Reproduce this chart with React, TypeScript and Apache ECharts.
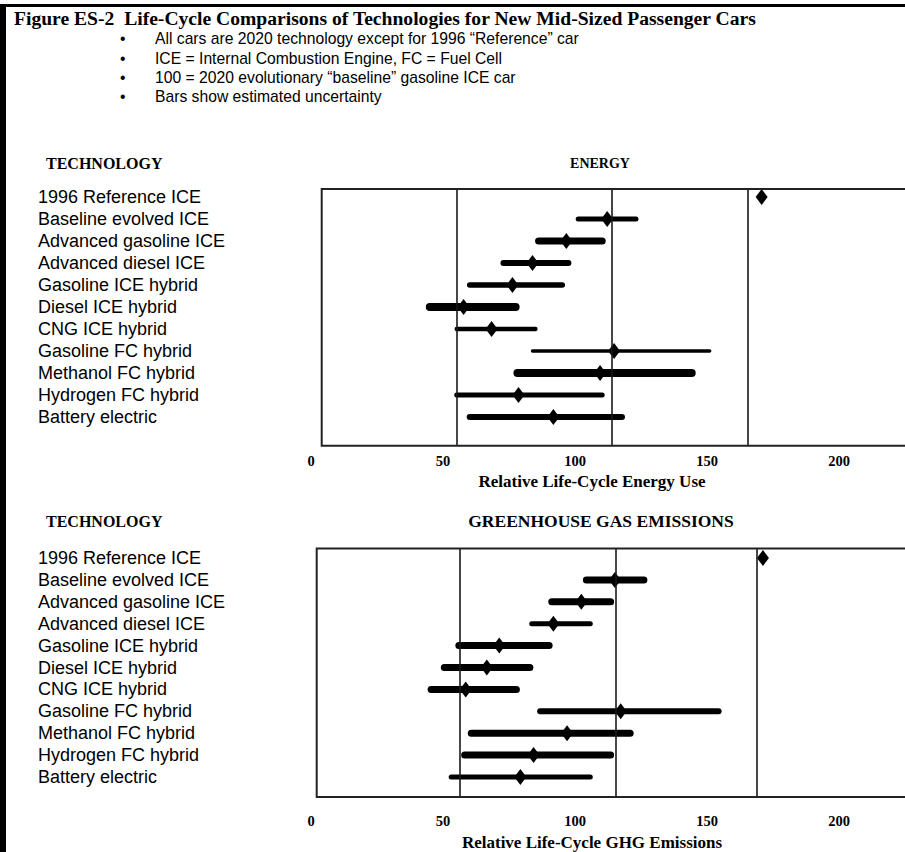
import React, { useEffect, useRef } from "react";
import * as echarts from "echarts";

const technologies = [
  "1996 Reference ICE",
  "Baseline evolved ICE",
  "Advanced gasoline ICE",
  "Advanced diesel ICE",
  "Gasoline ICE hybrid",
  "Diesel ICE hybrid",
  "CNG ICE hybrid",
  "Gasoline FC hybrid",
  "Methanol FC hybrid",
  "Hydrogen FC hybrid",
  "Battery electric",
];

const energyMid = [170.7, 112.2, 96.7, 83.9, 76.3, 57.8, 68.4, 114.8, 109.5, 78.6, 91.8];
const energyLow = [null, 101.2, 86.2, 72.9, 60.1, 45.0, 55.2, 83.9, 78.2, 55.2, 60.1];
const energyHigh = [null, 123.1, 110.3, 97.5, 95.2, 77.5, 85.0, 151.0, 144.2, 110.3, 117.8];
const energyRefLines = [55.2, 114.0, 165.6];

const ghgMid = [171.2, 115.1, 102.4, 91.8, 71.3, 66.6, 58.6, 117.3, 97.0, 84.3, 79.3];
const ghgLow = [null, 104.3, 91.2, 83.6, 56.0, 50.5, 45.5, 86.8, 60.7, 58.2, 53.1];
const ghgHigh = [null, 126.1, 113.5, 105.8, 90.2, 82.9, 77.8, 154.4, 120.9, 113.5, 105.8];
const ghgRefLines = [56.5, 115.6, 168.8];

const xTicks = [0, 50, 100, 150, 200];

const bullets = [
  "All cars are 2020 technology except for 1996 \u201cReference\u201d car",
  "ICE = Internal Combustion Engine, FC = Fuel Cell",
  "100 = 2020 evolutionary \u201cbaseline\u201d gasoline ICE car",
  "Bars show estimated uncertainty",
];

// styles (not data)
const energyBarWidths = [0, 5, 7, 6, 5.5, 8, 4.5, 3.5, 8, 5, 6];
const ghgBarWidths = [0, 7, 7, 5, 7, 7, 7, 6, 7, 7, 5];

const SERIF = "'Liberation Serif', 'Times New Roman', serif";
const SANS = "'Liberation Sans', Arial, sans-serif";

const X0 = 311; // pixel of value 0
const XW = 596.25; // pixel width of 0..225
const XMAX = 225;

function App() {
  const ref = useRef<HTMLDivElement>(null);

  useEffect(() => {
    if (!ref.current) return;
    const chart = echarts.init(ref.current, undefined, { renderer: "svg" });

    const rowIdx = technologies.map((_, i) => i);

    const makeBars = (low: (number | null)[], high: (number | null)[], widths: number[], gi: number) => ({
      type: "custom",
      xAxisIndex: gi,
      yAxisIndex: gi,
      silent: true,
      z: 3,
      data: low
        .map((l, i) => (l == null ? null : [l, high[i], i]))
        .filter((d) => d != null),
      encode: { x: [0, 1], y: 2 },
      renderItem: (params: any, api: any) => {
        const lo = api.value(0);
        const hi = api.value(1);
        const row = api.value(2);
        const p1 = api.coord([lo, row]);
        const p2 = api.coord([hi, row]);
        return {
          type: "line",
          shape: { x1: p1[0], y1: p1[1], x2: p2[0], y2: p2[1] },
          style: { stroke: "#000", lineWidth: widths[row], lineCap: "round" },
        };
      },
    });

    const makeDots = (mid: number[], refs: number[], gi: number) => ({
      type: "scatter",
      xAxisIndex: gi,
      yAxisIndex: gi,
      silent: true,
      z: 4,
      symbol: "diamond",
      symbolSize: [12, 16],
      itemStyle: { color: "#000", opacity: 1 },
      data: mid.map((v, i) => [v, i]),
      markLine: {
        silent: true,
        symbol: ["none", "none"],
        label: { show: false },
        lineStyle: { color: "#1a1a1a", width: 1.6, type: "solid" },
        data: refs.map((v) => ({ xAxis: v })),
      },
    });

    const xAxisBase = (gi: number, margin: number) => ({
      gridIndex: gi,
      type: "value",
      min: 0,
      max: XMAX,
      axisLine: { show: false },
      axisTick: { show: false },
      splitLine: { show: false },
      axisLabel: {
        customValues: xTicks,
        formatter: (v: number) => (xTicks.includes(v) ? String(v) : ""),
        fontFamily: SERIF,
        fontWeight: "bold",
        fontSize: 14.5,
        color: "#000",
        margin,
      },
    });

    const yAxisBase = (gi: number, min: number, max: number) => ({
      gridIndex: gi,
      type: "value",
      inverse: true,
      min,
      max,
      axisLine: { show: false },
      axisTick: { show: false },
      splitLine: { show: false },
      axisLabel: {
        customValues: rowIdx,
        formatter: (v: number) => technologies[v] ?? "",
        align: "left",
        margin: X0 - 38,
        fontFamily: SANS,
        fontSize: 18,
        color: "#000",
      },
    });

    const text = (x: number, y: number, t: string, font: any, align = "left") => ({
      type: "text",
      x,
      y,
      silent: true,
      style: {
        text: t,
        fill: "#000",
        align,
        verticalAlign: "middle",
        ...font,
      },
    });

    const bulletY = [38, 58, 77, 96];

    const graphic: any[] = [
      // page frame
      { type: "rect", shape: { x: 0, y: 6, width: 6, height: 846 }, style: { fill: "#000" }, silent: true },
      { type: "rect", shape: { x: 0, y: 4, width: 905, height: 3 }, style: { fill: "#000" }, silent: true },
      text(14, 18, "Figure ES-2  Life-Cycle Comparisons of Technologies for New Mid-Sized Passenger Cars", {
        fontFamily: SERIF,
        fontWeight: "bold",
        fontSize: 19.6,
      }),
      ...bullets.flatMap((b, i) => [
        text(120, bulletY[i], "\u2022", { fontFamily: SANS, fontSize: 15.7 }),
        text(155, bulletY[i], b, { fontFamily: SANS, fontSize: 15.7 }),
      ]),
      text(46, 163, "TECHNOLOGY", { fontFamily: SERIF, fontWeight: "bold", fontSize: 16 }),
      text(600, 163, "ENERGY", { fontFamily: SERIF, fontWeight: "bold", fontSize: 14 }, "center"),
      text(46, 521, "TECHNOLOGY", { fontFamily: SERIF, fontWeight: "bold", fontSize: 16 }),
      text(601, 521, "GREENHOUSE GAS EMISSIONS", { fontFamily: SERIF, fontWeight: "bold", fontSize: 17.5 }, "center"),
      text(592, 481, "Relative Life-Cycle Energy Use", { fontFamily: SERIF, fontWeight: "bold", fontSize: 17 }, "center"),
      text(592, 842, "Relative Life-Cycle GHG Emissions", { fontFamily: SERIF, fontWeight: "bold", fontSize: 17 }, "center"),
      // plot boxes
      {
        type: "rect",
        silent: true,
        z: 10,
        shape: { x: 321.7, y: 189, width: 600, height: 256.7 },
        style: { fill: "none", stroke: "#222", lineWidth: 2 },
      },
      {
        type: "rect",
        silent: true,
        z: 10,
        shape: { x: 316.7, y: 548.4, width: 600, height: 248.6 },
        style: { fill: "none", stroke: "#222", lineWidth: 2 },
      },
    ];

    chart.setOption({
      animation: false,
      backgroundColor: "#fff",
      grid: [
        { left: X0, width: XW, top: 189, height: 256.7 },
        { left: X0, width: XW, top: 548.4, height: 248.6 },
      ],
      xAxis: [xAxisBase(0, 8), xAxisBase(1, 16)],
      yAxis: [yAxisBase(0, -8 / 22, 10 + 28.7 / 22), yAxisBase(1, -9.6 / 21.9, 10 + 20 / 21.9)],
      series: [
        makeBars(energyLow, energyHigh, energyBarWidths, 0),
        makeDots(energyMid, energyRefLines, 0),
        makeBars(ghgLow, ghgHigh, ghgBarWidths, 1),
        makeDots(ghgMid, ghgRefLines, 1),
      ],
      graphic,
    });

    return () => chart.dispose();
  }, []);

  return (
    <div
      ref={ref}
      style={{ position: "absolute", left: 0, top: 0, width: 905, height: 852, background: "#fff" }}
    />
  );
}

export default App;
